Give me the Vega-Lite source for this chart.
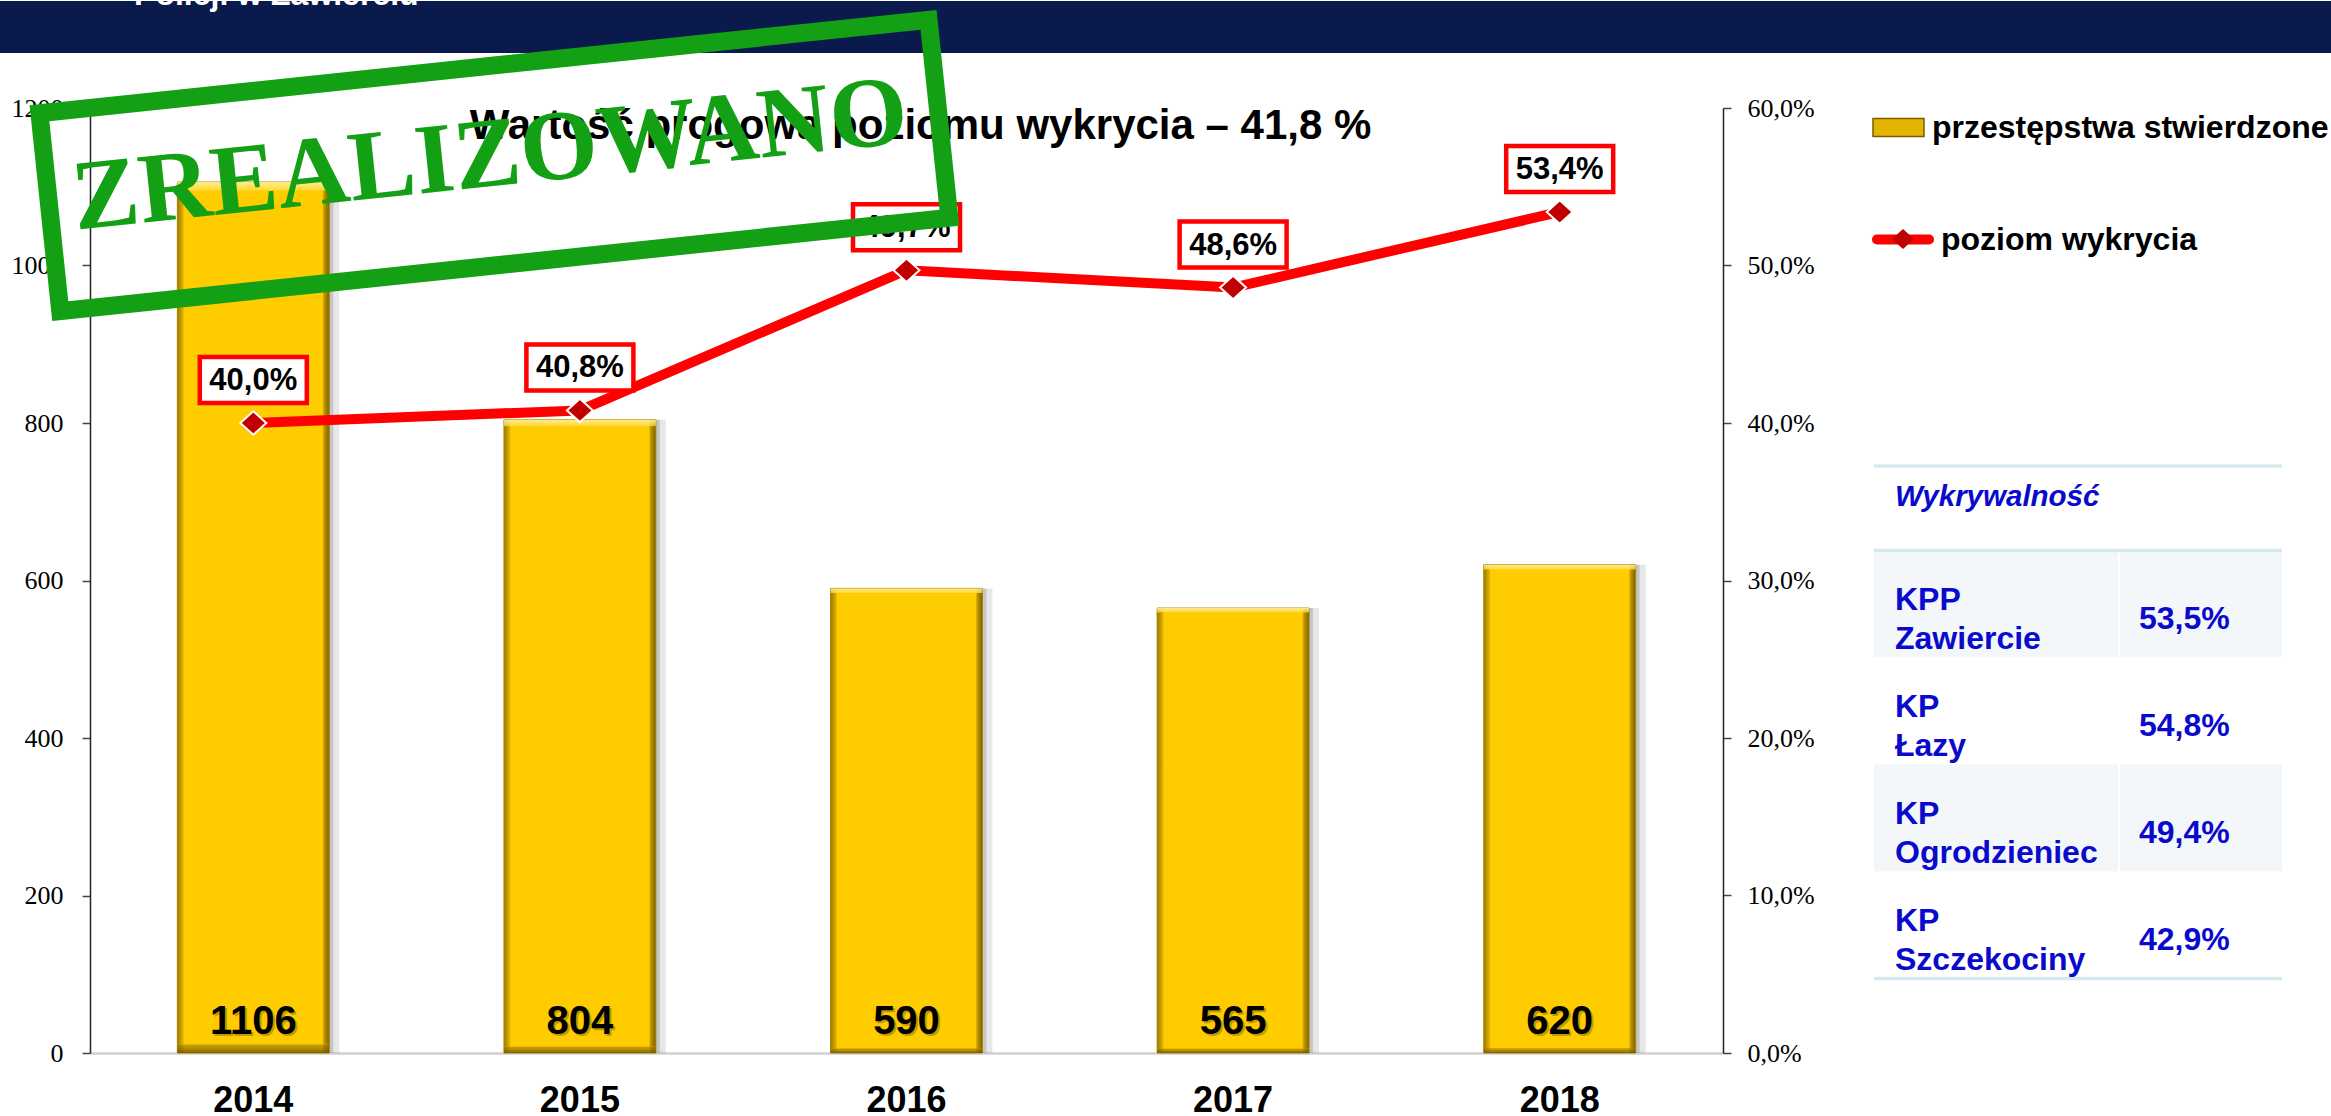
{
  "$schema": "https://vega.github.io/schema/vega-lite/v6.json",
  "padding": {"top": -17, "left": 0, "right": 0, "bottom": 0},
  "bounds": "flush",
  "spacing": 55,
  "background": "white",
  "config": {
    "view": {"stroke": null},
    "locale": {"number": {"decimal": ",", "thousands": " ", "grouping": [3], "currency": ["", " zł"]}},
    "font": "Liberation Sans"
  },
  "vconcat": [
    {
      "width": 2331,
      "height": 52,
      "view": {"fill": "#0B1A4C", "stroke": null},
      "data": {"values": [{"t": "Policji w Zawierciu"}]},
      "mark": {"type": "text", "clip": true, "align": "left", "baseline": "alphabetic", "font": "Liberation Sans", "fontWeight": "bold", "fontSize": 32, "color": "#FFFFFF"},
      "encoding": {
        "text": {"field": "t", "type": "nominal"},
        "x": {"datum": 0.0575, "type": "quantitative", "scale": {"domain": [0, 1], "nice": false, "zero": false}, "axis": null},
        "y": {"datum": 0.08, "type": "quantitative", "scale": {"domain": [0, 1], "reverse": true, "nice": false, "zero": false}, "axis": null}
      }
    },
    {
      "spacing": 0,
      "bounds": "flush",
      "hconcat": [
        {
          "width": 90,
          "height": 945,
          "data": {"values": [{}]},
          "mark": {"type": "text", "text": ""},
          "encoding": {}
        },
        {
          "width": 1633,
          "height": 945,
          "data": {"values": [
            {"rok": "2014", "przestepstwa": 1106, "wykrycie": 0.400},
            {"rok": "2015", "przestepstwa": 804, "wykrycie": 0.408},
            {"rok": "2016", "przestepstwa": 590, "wykrycie": 0.497},
            {"rok": "2017", "przestepstwa": 565, "wykrycie": 0.486},
            {"rok": "2018", "przestepstwa": 620, "wykrycie": 0.534}
          ]},
          "resolve": {"scale": {"y": "independent"}, "axis": {"y": "independent"}},
          "layer": [
            {
              "layer": [
                {
                  "mark": {"type": "bar", "color": "#7A7A7A", "opacity": 0.3, "xOffset": 4, "x2Offset": 4},
                  "encoding": {
                    "x": {"field": "rok", "type": "nominal", "scale": {"paddingInner": 0.535, "paddingOuter": 0.2675},
                      "axis": {"title": null, "labelAngle": 0, "ticks": false, "domainColor": "#D0D0D0", "domainWidth": 2.5, "labelFont": "Liberation Sans", "labelFontSize": 36, "labelFontWeight": "bold", "labelColor": "#000000", "labelPadding": 30}},
                    "y": {"field": "przestepstwa", "type": "quantitative", "scale": {"domain": [0, 1200], "nice": false},
                      "axis": {"title": null, "values": [0, 200, 400, 600, 800, 1000, 1200], "format": "d", "grid": false, "labelFont": "Liberation Serif", "labelFontSize": 26, "labelColor": "#000000", "labelPadding": 19, "tickSize": 8, "tickColor": "#444444", "tickWidth": 1.5, "domainColor": "#222222", "domainWidth": 1.5}}
                  }
                },
                {
                  "mark": {"type": "bar", "color": "#7A7A7A", "opacity": 0.18, "xOffset": 10, "x2Offset": 10},
                  "encoding": {
                    "x": {"field": "rok", "type": "nominal"},
                    "y": {"field": "przestepstwa", "type": "quantitative"}
                  }
                },
                {
                  "mark": {"type": "bar", "opacity": 1},
                  "encoding": {
                    "x": {"field": "rok", "type": "nominal"},
                    "y": {"field": "przestepstwa", "type": "quantitative"},
                    "fill": {"datum": "przestępstwa stwierdzone", "type": "nominal", "scale": {"range": ["#E3B400"]},
                      "legend": {"orient": "none", "legendX": 1872, "legendY": 100, "title": null, "symbolType": "M-1,-0.35H1V0.35H-1Z", "symbolSize": 2601, "symbolOpacity": 1, "symbolStrokeColor": "#7A5E00", "symbolStrokeWidth": 1.5, "labelFont": "Liberation Sans", "labelFontSize": 32, "labelFontWeight": "bold", "labelColor": "#000000", "labelLimit": 700, "labelOffset": 7}
                    }
                  }
                },
                {
                  "mark": {"type": "bar", "stroke": "#A88400", "strokeWidth": 1,
                    "color": {"gradient": "linear", "x1": 0, "y1": 0, "x2": 1, "y2": 0, "stops": [{"offset": 0, "color": "#9C7A00"}, {"offset": 0.035, "color": "#D9AD00"}, {"offset": 0.045, "color": "#FFCC00"}, {"offset": 0.955, "color": "#FFCC00"}, {"offset": 0.965, "color": "#C49A00"}, {"offset": 1, "color": "#7A5E00"}]}},
                  "encoding": {
                    "x": {"field": "rok", "type": "nominal"},
                    "y": {"field": "przestepstwa", "type": "quantitative"}
                  }
                },
                {
                  "mark": {"type": "bar",
                    "color": {"gradient": "linear", "x1": 0, "y1": 0, "x2": 0, "y2": 1, "stops": [{"offset": 0, "color": "rgba(255,238,150,0.95)"}, {"offset": 0.009, "color": "rgba(255,225,90,0.7)"}, {"offset": 0.011, "color": "rgba(255,204,0,0)"}, {"offset": 0.988, "color": "rgba(255,204,0,0)"}, {"offset": 0.991, "color": "rgba(160,120,0,0.55)"}, {"offset": 1, "color": "rgba(110,85,0,0.85)"}]}},
                  "encoding": {
                    "x": {"field": "rok", "type": "nominal"},
                    "y": {"field": "przestepstwa", "type": "quantitative"}
                  }
                },
                {
                  "mark": {"type": "text", "font": "Liberation Sans", "fontSize": 40, "fontWeight": "bold", "baseline": "alphabetic", "yOffset": -17, "xOffset": 2, "color": "#7A6000", "opacity": 0.45},
                  "encoding": {
                    "x": {"field": "rok", "type": "nominal"},
                    "y": {"datum": 0, "type": "quantitative"},
                    "text": {"field": "przestepstwa", "type": "quantitative", "format": "d"}
                  }
                },
                {
                  "mark": {"type": "text", "font": "Liberation Sans", "fontSize": 40, "fontWeight": "bold", "baseline": "alphabetic", "yOffset": -19, "color": "#000000"},
                  "encoding": {
                    "x": {"field": "rok", "type": "nominal"},
                    "y": {"datum": 0, "type": "quantitative"},
                    "text": {"field": "przestepstwa", "type": "quantitative", "format": "d"}
                  }
                }
              ]
            },
            {
              "layer": [
                {
                  "mark": {"type": "line", "strokeWidth": 10, "strokeJoin": "round"},
                  "encoding": {
                    "x": {"field": "rok", "type": "nominal"},
                    "y": {"field": "wykrycie", "type": "quantitative", "scale": {"domain": [0, 0.6], "nice": false},
                      "axis": {"orient": "right", "title": null, "values": [0, 0.1, 0.2, 0.3, 0.4, 0.5, 0.6], "format": ".1%", "grid": false, "labelFont": "Liberation Serif", "labelFontSize": 26, "labelColor": "#000000", "labelPadding": 16, "tickSize": 8, "tickColor": "#444444", "tickWidth": 1.5, "domainColor": "#222222", "domainWidth": 1.5}},
                    "stroke": {"datum": "poziom wykrycia", "type": "nominal", "scale": {"range": ["#FF0000"]},
                      "legend": {"orient": "none", "legendX": 1872, "legendY": 207.5, "title": null, "symbolType": "stroke", "symbolSize": 2704, "symbolStrokeWidth": 10, "symbolOpacity": 1, "labelFont": "Liberation Sans", "labelFontSize": 32, "labelFontWeight": "bold", "labelColor": "#000000", "labelLimit": 700, "labelOffset": 7,
                        "encode": {"symbols": {"update": {"strokeCap": {"value": "round"}}}}}
                    }
                  }
                },
                {
                  "mark": {"type": "point", "filled": true, "size": 676, "fill": "#C00000", "stroke": "#FFFFFF", "strokeWidth": 2, "opacity": 1},
                  "encoding": {
                    "x": {"field": "rok", "type": "nominal"},
                    "y": {"field": "wykrycie", "type": "quantitative"},
                    "shape": {"datum": "znacznik", "type": "nominal", "scale": {"range": ["M0,-0.9L1,0L0,0.9L-1,0Z"]},
                      "legend": {"orient": "none", "legendX": 1887, "legendY": 222, "zindex": 2, "title": null, "symbolSize": 484, "symbolOpacity": 1, "symbolFillColor": "#C00000", "symbolStrokeColor": "#FFFFFF", "symbolStrokeWidth": 2, "labelFont": "Liberation Sans", "labelFontSize": 32, "labelFontWeight": "bold", "labelOpacity": 0, "labelExpr": "''", "labelOffset": 2,
                        "encode": {"symbols": {"update": {"fill": {"value": "#C00000"}, "stroke": {"value": "#FFFFFF"}, "strokeWidth": {"value": 2}}}}}
                    }
                  }
                },
                {
                  "mark": {"type": "point", "shape": "M-1,-0.43H1V0.43H-1Z", "size": 11449, "filled": true, "fill": "#FFFFFF", "stroke": "#FF0000", "strokeWidth": 4.5, "opacity": 1, "yOffset": -43},
                  "encoding": {
                    "x": {"field": "rok", "type": "nominal"},
                    "y": {"field": "wykrycie", "type": "quantitative"}
                  }
                },
                {
                  "mark": {"type": "text", "font": "Liberation Sans", "fontSize": 31, "fontWeight": "bold", "color": "#000000", "baseline": "middle", "yOffset": -42},
                  "encoding": {
                    "x": {"field": "rok", "type": "nominal"},
                    "y": {"field": "wykrycie", "type": "quantitative"},
                    "text": {"field": "wykrycie", "type": "quantitative", "format": ".1%"}
                  }
                }
              ]
            },
            {
              "data": {"values": [{"napis": "ZREALIZOWANO", "tytul": "Wartość progowa poziomu wykrycia – 41,8 %"}]},
              "layer": [
                {
                  "mark": {"type": "text", "font": "Liberation Sans", "fontSize": 42, "fontWeight": "bold", "color": "#000000", "align": "center", "baseline": "alphabetic", "xOffset": 14},
                  "encoding": {
                    "x": {"datum": "2016", "type": "nominal"},
                    "y": {"datum": 1160.6, "type": "quantitative", "scale": {"domain": [0, 1200], "nice": false}, "axis": null},
                    "text": {"field": "tytul", "type": "nominal"}
                  }
                },
                {
                  "mark": {"type": "point", "shape": "M-1,-0.2226H1V0.2226H-1Z", "size": 799236, "filled": false, "stroke": "#14A014", "strokeWidth": 18, "angle": -6, "opacity": 1, "zindex": 1, "xOffset": -85.5},
                  "encoding": {
                    "x": {"datum": "2015", "type": "nominal"},
                    "y": {"datum": 1127, "type": "quantitative"}
                  }
                },
                {
                  "mark": {"type": "text", "angle": -6, "font": "Liberation Serif", "fontWeight": "bold", "fontSize": 100, "color": "#14A014", "align": "center", "baseline": "middle", "zindex": 1, "xOffset": -90},
                  "encoding": {
                    "x": {"datum": "2015", "type": "nominal"},
                    "y": {"datum": 1139, "type": "quantitative"},
                    "text": {"field": "napis", "type": "nominal"}
                  }
                }
              ]
            }
          ]
        },
        {
          "width": 608,
          "height": 945,
          "data": {"values": [
            {"nr": 1, "jednostka": ["KPP", "Zawiercie"], "wynik": 0.535},
            {"nr": 2, "jednostka": ["KP", "Łazy"], "wynik": 0.548},
            {"nr": 3, "jednostka": ["KP", "Ogrodzieniec"], "wynik": 0.494},
            {"nr": 4, "jednostka": ["KP", "Szczekociny"], "wynik": 0.429}
          ]},
          "layer": [
            {
              "mark": {"type": "rule", "strokeWidth": 107, "strokeCap": "butt"},
              "encoding": {
                "x": {"datum": 0, "type": "quantitative", "scale": {"domain": [-0.3701, 1.1201], "nice": false, "zero": false}, "axis": null},
                "x2": {"datum": 1},
                "y": {"field": "nr", "type": "quantitative", "scale": {"domain": [-3.636, 5.196], "reverse": true, "nice": false, "zero": false}, "axis": null},
                "stroke": {"condition": {"test": "datum.nr % 2 === 1", "value": "#F3F7F9"}, "value": "#FFFFFF"}
              }
            },
            {
              "data": {"values": [{}]},
              "mark": {"type": "rule", "strokeWidth": 2, "color": "#FFFFFF"},
              "encoding": {"x": {"datum": 0.6005, "type": "quantitative"}, "y": {"datum": 0.5, "type": "quantitative"}, "y2": {"datum": 4.5}}
            },
            {
              "data": {"values": [{}]},
              "mark": {"type": "rule", "strokeWidth": 3.5, "color": "#D6EAEE"},
              "encoding": {"x": {"datum": 0, "type": "quantitative"}, "x2": {"datum": 1}, "y": {"datum": -0.29, "type": "quantitative"}}
            },
            {
              "data": {"values": [{}]},
              "mark": {"type": "rule", "strokeWidth": 3.5, "color": "#D6EAEE"},
              "encoding": {"x": {"datum": 0, "type": "quantitative"}, "x2": {"datum": 1}, "y": {"datum": 0.5, "type": "quantitative"}}
            },
            {
              "data": {"values": [{}]},
              "mark": {"type": "rule", "strokeWidth": 3.5, "color": "#D6EAEE"},
              "encoding": {"x": {"datum": 0, "type": "quantitative"}, "x2": {"datum": 1}, "y": {"datum": 4.5, "type": "quantitative"}}
            },
            {
              "data": {"values": [{"naglowek": "Wykrywalność"}]},
              "mark": {"type": "text", "align": "left", "baseline": "middle", "font": "Liberation Sans", "fontSize": 29.5, "fontWeight": "bold", "fontStyle": "italic", "color": "#0A0ACD"},
              "encoding": {"x": {"datum": 0.0515, "type": "quantitative"}, "y": {"datum": 0, "type": "quantitative"}, "text": {"field": "naglowek", "type": "nominal"}}
            },
            {
              "mark": {"type": "text", "align": "left", "baseline": "middle", "font": "Liberation Sans", "fontSize": 32, "fontWeight": "bold", "color": "#0A0ACD", "lineHeight": 38.5, "dy": -4},
              "encoding": {"x": {"datum": 0.0515, "type": "quantitative"}, "y": {"field": "nr", "type": "quantitative"}, "text": {"field": "jednostka", "type": "nominal"}}
            },
            {
              "mark": {"type": "text", "align": "left", "baseline": "middle", "font": "Liberation Sans", "fontSize": 32, "fontWeight": "bold", "color": "#0A0ACD", "dy": 15.25},
              "encoding": {"x": {"datum": 0.6495, "type": "quantitative"}, "y": {"field": "nr", "type": "quantitative"}, "text": {"field": "wynik", "type": "quantitative", "format": ".1%"}}
            }
          ]
        }
      ]
    }
  ]
}
